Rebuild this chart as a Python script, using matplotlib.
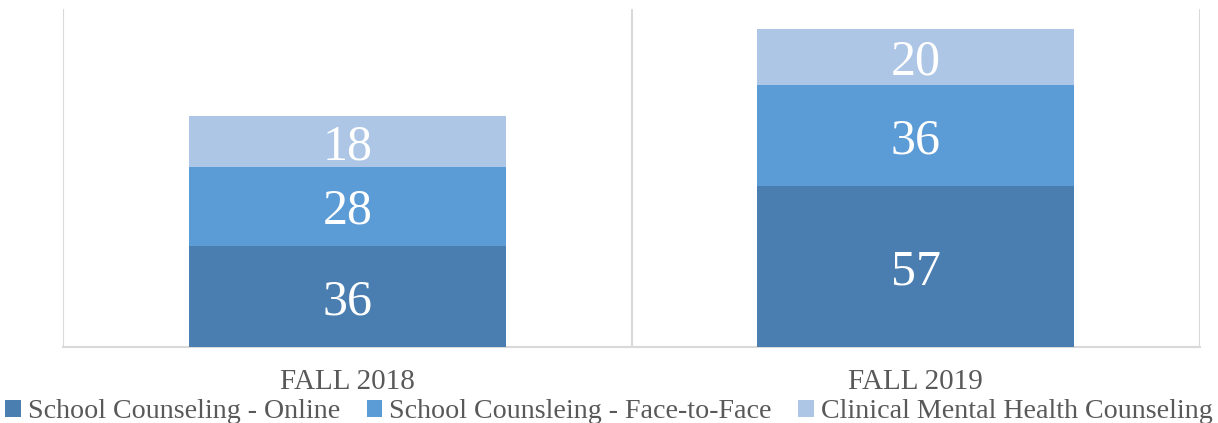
import numpy as np
import matplotlib.pyplot as plt

# data
categories = ["FALL 2018", "FALL 2019"]
series_names = ["School Counseling - Online",
                "School Counsleing - Face-to-Face",
                "Clinical Mental Health Counseling"]
online = [36, 57]
face_to_face = [28, 36]
clinical = [18, 20]
colors = ["#4A7EB0", "#5B9BD6", "#ADC6E6"]

plt.rcParams['font.family'] = ['Liberation Serif', 'DejaVu Serif']

fig = plt.figure(figsize=(12.18, 4.23), dpi=100)
ax = fig.add_axes([63 / 1218, 1 - 347 / 423, (1200 - 63) / 1218, (347 - 9) / 423])

x = np.arange(len(categories))
bottom = np.zeros(len(categories))
for name, vals, c in zip(series_names, [online, face_to_face, clinical], colors):
    bars = ax.bar(x, vals, width=0.557, bottom=bottom, color=c, label=name, zorder=3)
    for b, v, b0 in zip(bars, vals, bottom):
        ax.text(b.get_x() + b.get_width() / 2, b0 + v / 2, str(v),
                ha='center', va='center_baseline', color='white', fontsize=36)
    bottom += np.array(vals)

ax.set_xlim(-0.5, 1.5)
ax.set_ylim(0, 120)
ax.set_yticks([])
ax.set_xticks(x)
ax.set_xticklabels(categories, fontsize=21, color='#595959')
ax.tick_params(axis='x', length=0, pad=16)

# category separators
for xv in [-0.5, 0.5, 1.5]:
    ax.axvline(xv, color='#D9D9D9', lw=1.5, zorder=1)
for s in ['top', 'left', 'right']:
    ax.spines[s].set_visible(False)
ax.spines['bottom'].set_color('#D9D9D9')
ax.spines['bottom'].set_linewidth(1.5)

fig.legend(loc='lower center', bbox_to_anchor=(0.5, -0.03), ncol=3, frameon=False,
           fontsize=20.2, handlelength=0.55, handleheight=0.55, handletextpad=0.25,
           columnspacing=0.95, labelcolor='#595959', borderaxespad=0)

fig.savefig('out.png', dpi=100)
